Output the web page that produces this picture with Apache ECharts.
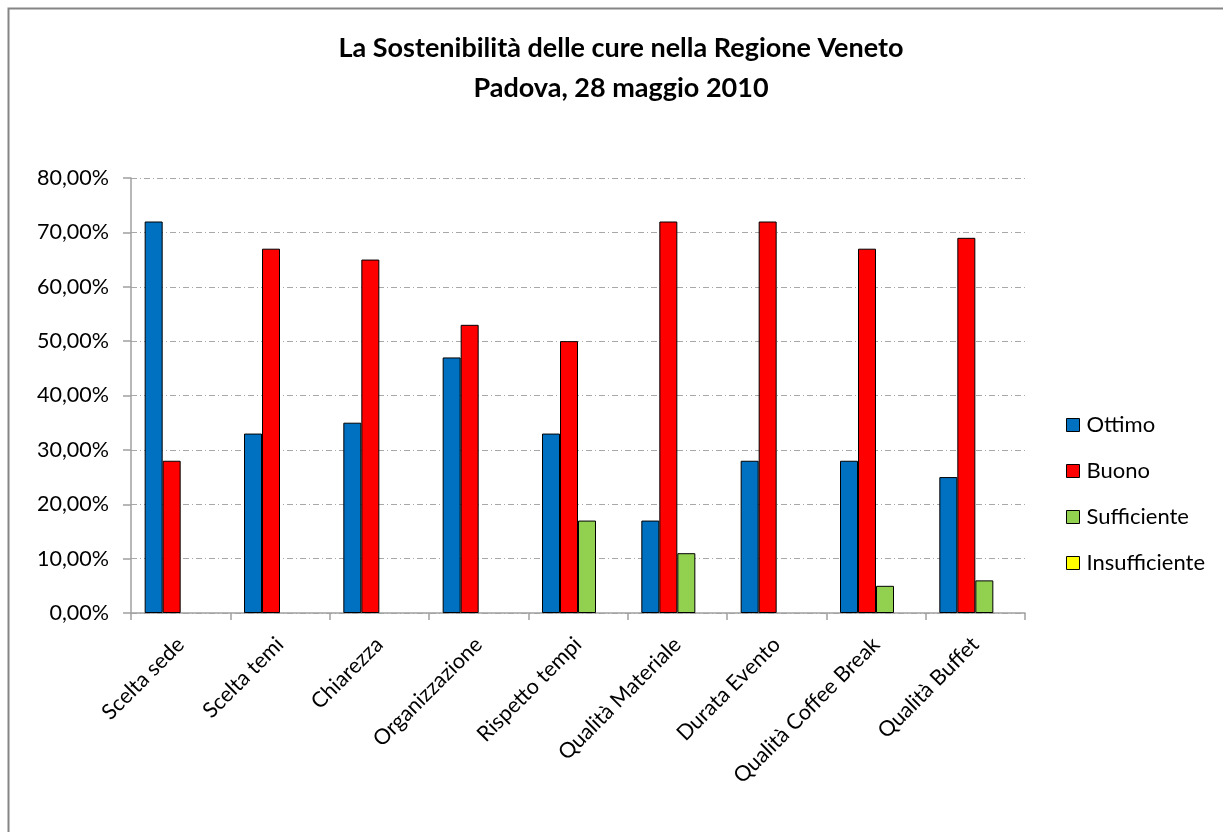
<!DOCTYPE html>
<html>
<head>
<meta charset="utf-8">
<script src="https://cdn.jsdelivr.net/npm/echarts@6/dist/echarts.min.js"></script>
<style>
html,body{margin:0;padding:0;background:#fff;}
#c{width:1223px;height:832px;}
</style>
</head>
<body>
<div id="c"></div>
<script>
var titleLines = ['La Sostenibilità delle cure nella Regione Veneto', 'Padova, 28 maggio 2010'];
var categories = ['Scelta sede','Scelta temi','Chiarezza','Organizzazione','Rispetto tempi','Qualità Materiale','Durata Evento','Qualità Coffee Break','Qualità Buffet'];
var seriesNames = ['Ottimo','Buono','Sufficiente','Insufficiente'];
var ottimo = [72, 33, 35, 47, 33, 17, 28, 28, 25];
var buono = [28, 67, 65, 53, 50, 72, 72, 67, 69];
var sufficiente = [0, 0, 0, 0, 17, 11, 0, 5, 6];
var insufficiente = [0, 0, 0, 0, 0, 0, 0, 0, 0];
var colors = ['#0070C0', '#FF0000', '#92D050', '#FFFF00'];
var yMin = 0, yMax = 80, yStep = 10;

var font = 'Lato, "Open Sans", sans-serif';
var values = [ottimo, buono, sufficiente, insufficiente];

function toData(arr) {
  return arr.map(function (v) {
    return v === 0 ? { value: 0, itemStyle: { borderWidth: 0 } } : v;
  });
}

var chart = echarts.init(document.getElementById('c'), null, { renderer: 'canvas' });
chart.setOption({
  animation: false,
  backgroundColor: '#fff',
  title: {
    text: titleLines.join('\n'),
    left: 621,
    textAlign: 'center',
    top: 28,
    padding: 0,
    textStyle: { fontFamily: font, fontSize: 27, fontWeight: 'bold', color: '#000', lineHeight: 40 }
  },
  graphic: [{
    type: 'rect',
    shape: { x: 8.5, y: 8.5, width: 1300, height: 900 },
    style: { fill: 'none', stroke: '#858585', lineWidth: 2 },
    silent: true, z: -1
  }],
  legend: {
    orient: 'vertical',
    left: 1066,
    top: 414,
    padding: 0,
    itemWidth: 13,
    itemHeight: 13,
    itemGap: 24,
    data: seriesNames,
    textStyle: { fontFamily: font, fontSize: 22, lineHeight: 22, color: '#000', padding: [0,0,0,2] },
    icon: 'rect',
    itemStyle: { borderColor: '#000', borderWidth: 1 }
  },
  grid: { left: 131, right: 198, top: 178, bottom: 219, containLabel: false },
  xAxis: {
    type: 'category',
    data: categories,
    axisLine: { lineStyle: { color: '#a0a0a0', width: 1.5 } },
    axisTick: { show: true, length: 7, lineStyle: { color: '#a0a0a0', width: 1.5 } },
    axisLabel: { rotate: 45, interval: 0, fontFamily: font, fontSize: 21.5, color: '#000', margin: 28 }
  },
  yAxis: {
    type: 'value',
    min: yMin, max: yMax, interval: yStep,
    axisLine: { show: true, lineStyle: { color: '#a0a0a0', width: 1.5 } },
    axisTick: { show: true, length: 8, lineStyle: { color: '#a0a0a0', width: 1.5 } },
    splitLine: { show: true, lineStyle: { color: '#a8a8a8', width: 1, type: [6, 3, 1, 3] } },
    axisLabel: {
      fontFamily: font, fontSize: 21.5, color: '#000', margin: 22,
      formatter: function (v) { return v.toFixed(2).replace('.', ',') + '%'; }
    }
  },
  series: seriesNames.map(function (n, i) {
    return {
      name: n,
      type: 'bar',
      data: toData(values[i]),
      barWidth: 18,
      barGap: '0%',
      itemStyle: { color: colors[i], borderColor: '#000', borderWidth: 1 }
    };
  })
});
</script>
</body>
</html>
